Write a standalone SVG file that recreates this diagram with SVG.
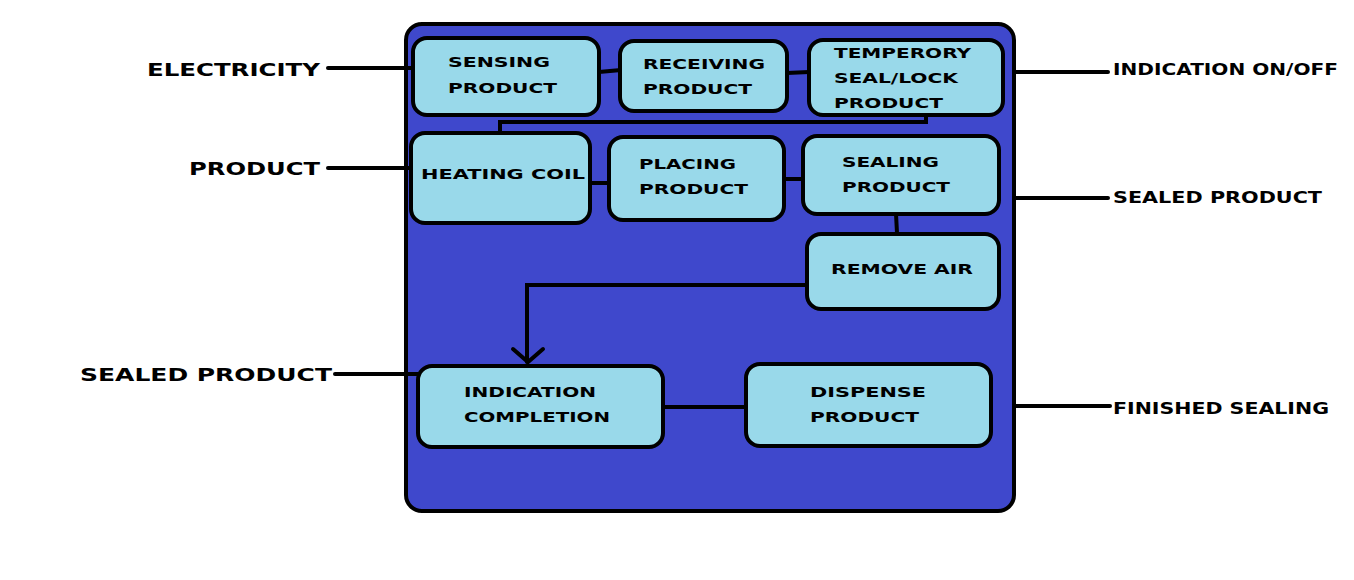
<svg xmlns="http://www.w3.org/2000/svg" width="1354" height="580" viewBox="0 0 1354 580">
<style>
.node rect{fill:#99d9ea;stroke:#000;stroke-width:4}
text{font-family:"DejaVu Sans","Liberation Sans",sans-serif;font-weight:bold;fill:#000}
.nt{font-size:14px}
.lt{font-size:17px}
.rt{font-size:15px}
.conn line,.conn path{stroke:#000;stroke-width:4;fill:none;stroke-linecap:round}
</style>
<rect width="1354" height="580" fill="#fff"/>
<g id="container">
<rect x="406" y="24" width="608" height="487" rx="16" fill="#3f48cc" stroke="#000" stroke-width="4"/>
</g>
<g class="conn" id="connectors">
<line x1="328" y1="68" x2="413" y2="68"/>
<line x1="328" y1="168" x2="411" y2="168"/>
<line x1="335" y1="374" x2="418" y2="374"/>
<line x1="1015" y1="72" x2="1108" y2="72"/>
<line x1="1015" y1="198" x2="1108" y2="198"/>
<line x1="1015" y1="406" x2="1110" y2="406"/>
<line x1="599" y1="72" x2="621" y2="70"/>
<line x1="787" y1="73" x2="809" y2="72"/>
<path d="M926 115 V122 H500 V133"/>
<line x1="590" y1="183" x2="608" y2="183"/>
<line x1="784" y1="179" x2="803" y2="179"/>
<line x1="896" y1="214" x2="897" y2="233"/>
<path d="M808 285 H527 V362"/>
<path d="M513 349 L528 362 L543 349"/>
<line x1="663" y1="407" x2="754" y2="407"/>
</g>
<g id="label-electricity"><text class="lt" x="147" y="76" textLength="173" lengthAdjust="spacingAndGlyphs">ELECTRICITY</text></g>
<g id="label-product"><text class="lt" x="189" y="175" textLength="131" lengthAdjust="spacingAndGlyphs">PRODUCT</text></g>
<g id="label-sealed-left"><text class="lt" x="80" y="381" textLength="252" lengthAdjust="spacingAndGlyphs">SEALED PRODUCT</text></g>
<g id="label-indication"><text class="rt" x="1113" y="75" textLength="225" lengthAdjust="spacingAndGlyphs">INDICATION ON/OFF</text></g>
<g id="label-sealed-right"><text class="rt" x="1113" y="203" textLength="209" lengthAdjust="spacingAndGlyphs">SEALED PRODUCT</text></g>
<g id="label-finished"><text class="rt" x="1113" y="414" textLength="216" lengthAdjust="spacingAndGlyphs">FINISHED SEALING</text></g>
<g class="node" id="sensing">
<rect x="413" y="38" width="186" height="77" rx="14"/>
<text class="nt" x="448" y="67" textLength="102" lengthAdjust="spacingAndGlyphs">SENSING</text>
<text class="nt" x="448" y="93" textLength="109" lengthAdjust="spacingAndGlyphs">PRODUCT</text>
</g>
<g class="node" id="receiving">
<rect x="620" y="41" width="167" height="70" rx="14"/>
<text class="nt" x="643" y="69" textLength="122" lengthAdjust="spacingAndGlyphs">RECEIVING</text>
<text class="nt" x="643" y="94" textLength="109" lengthAdjust="spacingAndGlyphs">PRODUCT</text>
</g>
<g class="node" id="temperory">
<rect x="809" y="40" width="194" height="75" rx="14"/>
<text class="nt" x="834" y="58" textLength="137" lengthAdjust="spacingAndGlyphs">TEMPERORY</text>
<text class="nt" x="834" y="83" textLength="124" lengthAdjust="spacingAndGlyphs">SEAL/LOCK</text>
<text class="nt" x="834" y="108" textLength="109" lengthAdjust="spacingAndGlyphs">PRODUCT</text>
</g>
<g class="node" id="heating">
<rect x="411" y="133" width="179" height="90" rx="14"/>
<text class="nt" x="421" y="179" textLength="164" lengthAdjust="spacingAndGlyphs">HEATING COIL</text>
</g>
<g class="node" id="placing">
<rect x="609" y="137" width="175" height="83" rx="14"/>
<text class="nt" x="639" y="169" textLength="97" lengthAdjust="spacingAndGlyphs">PLACING</text>
<text class="nt" x="639" y="194" textLength="109" lengthAdjust="spacingAndGlyphs">PRODUCT</text>
</g>
<g class="node" id="sealing">
<rect x="803" y="136" width="196" height="78" rx="14"/>
<text class="nt" x="842" y="167" textLength="97" lengthAdjust="spacingAndGlyphs">SEALING</text>
<text class="nt" x="842" y="192" textLength="108" lengthAdjust="spacingAndGlyphs">PRODUCT</text>
</g>
<g class="node" id="remove-air">
<rect x="807" y="234" width="192" height="75" rx="14"/>
<text class="nt" x="831" y="274" textLength="142" lengthAdjust="spacingAndGlyphs">REMOVE AIR</text>
</g>
<g class="node" id="indication-completion">
<rect x="418" y="366" width="245" height="81" rx="14"/>
<text class="nt" x="464" y="397" textLength="132" lengthAdjust="spacingAndGlyphs">INDICATION</text>
<text class="nt" x="464" y="422" textLength="146" lengthAdjust="spacingAndGlyphs">COMPLETION</text>
</g>
<g class="node" id="dispense">
<rect x="746" y="364" width="245" height="82" rx="14"/>
<text class="nt" x="810" y="397" textLength="116" lengthAdjust="spacingAndGlyphs">DISPENSE</text>
<text class="nt" x="810" y="422" textLength="109" lengthAdjust="spacingAndGlyphs">PRODUCT</text>
</g>
</svg>
